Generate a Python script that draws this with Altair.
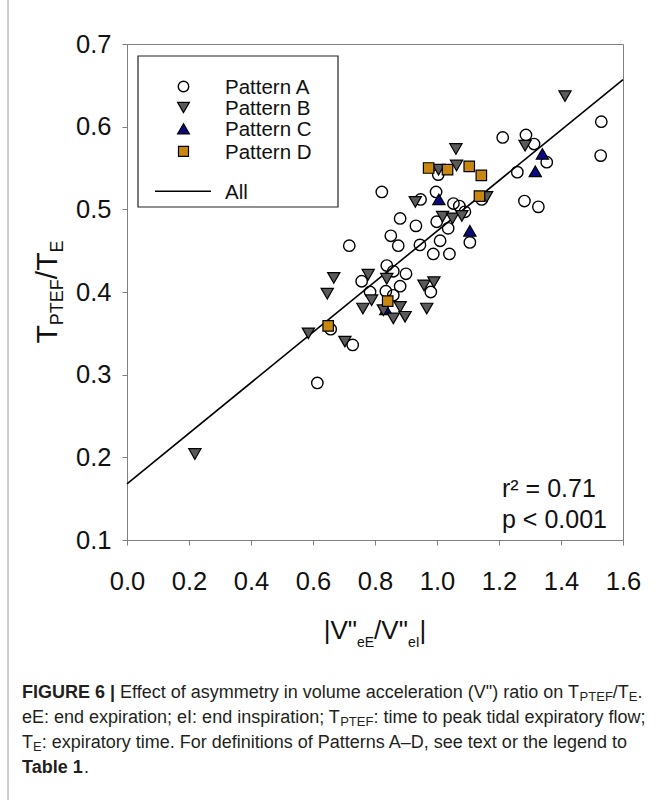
import altair as alt
import pandas as pd

# ---------------- data ----------------
a_x = [0.614, 0.657, 0.728, 0.717, 0.757, 0.784, 0.822, 0.835, 0.838, 0.859, 0.859,
       0.851, 0.875, 0.881, 0.881, 0.900, 0.932, 0.945, 0.947, 0.980, 0.988, 0.997,
       1.004, 0.999, 1.010, 1.036, 1.040, 1.053, 1.072, 1.090, 1.106, 1.144, 1.212,
       1.259, 1.282, 1.287, 1.313, 1.327, 1.354, 1.530, 1.528]
a_y = [0.290, 0.355, 0.336, 0.456, 0.413, 0.400, 0.521, 0.401, 0.432, 0.425, 0.396,
       0.468, 0.456, 0.489, 0.407, 0.422, 0.480, 0.457, 0.512, 0.400, 0.446, 0.521,
       0.542, 0.485, 0.462, 0.477, 0.446, 0.507, 0.504, 0.497, 0.460, 0.512, 0.587,
       0.545, 0.510, 0.590, 0.579, 0.503, 0.557, 0.606, 0.565]

b_x = [0.219, 0.585, 0.646, 0.667, 0.703, 0.778, 0.789, 0.761, 0.838, 0.827, 0.881,
       0.859, 0.897, 0.958, 0.990, 0.967, 0.930, 1.005, 1.061, 1.063, 1.018, 1.050,
       1.080, 1.160, 1.284, 1.413]
b_y = [0.204, 0.350, 0.398, 0.417, 0.340, 0.421, 0.390, 0.380, 0.416, 0.378, 0.382,
       0.368, 0.370, 0.408, 0.412, 0.380, 0.509, 0.548, 0.573, 0.553, 0.491, 0.489,
       0.492, 0.515, 0.577, 0.637]

c_x = [0.835, 1.006, 1.106, 1.317, 1.340]
c_y = [0.379, 0.512, 0.474, 0.546, 0.567]

d_x = [0.649, 0.841, 0.973, 1.034, 1.104, 1.143, 1.137]
d_y = [0.359, 0.389, 0.550, 0.548, 0.552, 0.541, 0.516]

fit_x = [0.0, 1.6]
fit_y = [0.168, 0.657]

x_ticks = [0.0, 0.2, 0.4, 0.6, 0.8, 1.0, 1.2, 1.4, 1.6]
y_ticks = [0.1, 0.2, 0.3, 0.4, 0.5, 0.6, 0.7]

legend_labels = ["Pattern A", "Pattern B", "Pattern C", "Pattern D", "All"]
stats_lines = ["r\u00b2 = 0.71", "p < 0.001"]

caption_lines = [
    [("FIGURE 6 |", "b"), (" Effect of asymmetry in volume acceleration (V\") ratio on T", "n"),
     ("PTEF", "s"), ("/T", "n"), ("E", "s"), (".", "n")],
    [("eE: end expiration; eI: end inspiration; T", "n"), ("PTEF", "s"),
     (": time to peak tidal expiratory flow;", "n")],
    [("T", "n"), ("E", "s"),
     (": expiratory time. For definitions of Patterns A\u2013D, see text or the legend to", "n")],
    [("Table 1", "b"), (".", "n")],
]
x_title = [("|V\"", "n"), ("eE", "s"), ("/V\"", "n"), ("eI", "s"), ("|", "n")]
y_title = [("T", "n"), ("PTEF", "s"), ("/T", "n"), ("E", "s")]

# ---------------- styling ----------------
FONT = "Liberation Sans, Arial, Helvetica, sans-serif"
X0, Y0 = 127, 44          # plot origin in the page
W = H = 496
GRAY = "#808080"
COL_B, COL_C, COL_D = "#5a5a5a", "#0a0a80", "#c8880f"

AR = {' ': 278, '!': 278, '"': 355, '(': 333, ')': 333, ',': 278, '-': 333, '.': 278,
      '/': 278, ':': 278, ';': 278, '|': 260, '<': 584, '=': 584, '\u2013': 556,
      'a': 556, 'b': 556, 'c': 500, 'd': 556, 'e': 556, 'f': 278, 'g': 556, 'h': 556,
      'i': 222, 'j': 222, 'k': 500, 'l': 222, 'm': 833, 'n': 556, 'o': 556, 'p': 556,
      'q': 556, 'r': 333, 's': 500, 't': 278, 'u': 556, 'v': 500, 'w': 722, 'x': 500,
      'y': 500, 'z': 500, 'A': 667, 'B': 667, 'C': 722, 'D': 722, 'E': 667, 'F': 611,
      'G': 778, 'H': 722, 'I': 278, 'J': 500, 'K': 667, 'L': 556, 'M': 833, 'N': 722,
      'O': 778, 'P': 667, 'Q': 778, 'R': 722, 'S': 667, 'T': 611, 'U': 722, 'V': 667,
      'W': 944, 'X': 667, 'Y': 667, 'Z': 611}
ARB = dict(AR)
ARB.update({'|': 280, 'b': 611, 'l': 278, 'G': 778, 'U': 722, 'R': 722, ':': 333})


def tw(s, size, bold=False):
    t = ARB if bold else AR
    return sum(t.get(ch, 556) for ch in s) * size / 1000.0


def txt(s, x, y, **kw):
    opts = dict(align="left", baseline="alphabetic", font=FONT, color="#111111")
    opts.update(kw)
    return alt.Chart(pd.DataFrame({"t": [s]})).mark_text(**opts).encode(
        text="t:N", x=alt.value(x - X0), y=alt.value(y - Y0))


xs = alt.Scale(domain=[0, 1.6], nice=False, zero=False)
ys = alt.Scale(domain=[0.1, 0.7], nice=False, zero=False)

xaxis = alt.Axis(values=x_ticks, format=".1f", title=None, grid=False, domainColor=GRAY,
                 tickColor=GRAY, tickSize=5, labelFont=FONT, labelFontSize=25.5,
                 labelColor="#111111", labelPadding=24, labelFlush=False, labelOverlap=False)
yaxis = alt.Axis(values=y_ticks, format=".1f", title=None, grid=False, domainColor=GRAY,
                 tickColor=GRAY, tickSize=5, labelFont=FONT, labelFontSize=25.5,
                 labelColor="#111111", labelPadding=11, labelFlush=False, labelOverlap=False)

layers = []

# outer figure border (left edge)
layers.append(alt.Chart(pd.DataFrame({"a": [0]})).mark_rule(color="#9a9a9a", strokeWidth=1).encode(
    x=alt.value(8 - X0), y=alt.value(0 - Y0), y2=alt.value(800 - Y0)))

# regression line
layers.append(alt.Chart(pd.DataFrame({"x": fit_x, "y": fit_y})).mark_line(
    color="black", strokeWidth=1.6).encode(
    x=alt.X("x:Q", scale=xs, axis=xaxis), y=alt.Y("y:Q", scale=ys, axis=yaxis)))


def pts(xv, yv, shape, fill, size):
    df = pd.DataFrame({"x": xv, "y": yv})
    if fill is None:
        mk = alt.Chart(df).mark_point(shape=shape, filled=False, color="black",
                                      strokeWidth=1.4, size=size, opacity=1)
    else:
        mk = alt.Chart(df).mark_point(shape=shape, filled=True, fill=fill, stroke="black",
                                      strokeWidth=1.2, size=size, opacity=1, fillOpacity=1)
    return mk.encode(x=alt.X("x:Q", scale=xs, axis=xaxis), y=alt.Y("y:Q", scale=ys, axis=yaxis))


layers.append(pts(a_x, a_y, "circle", None, 130))
layers.append(pts(c_x, c_y, "triangle-up", COL_C, 150))
layers.append(pts(b_x, b_y, "triangle-down", COL_B, 150))
layers.append(pts(d_x, d_y, "square", COL_D, 110))

# ---------------- legend ----------------
layers.append(alt.Chart(pd.DataFrame({"a": [0]})).mark_rect(
    filled=False, stroke="#222222", strokeWidth=1.2).encode(
    x=alt.value(138 - X0), x2=alt.value(338 - X0), y=alt.value(56 - Y0), y2=alt.value(207 - Y0)))

leg_rows = [86.5, 107.5, 128.8, 151.3, 191.3]
leg_sym = [("circle", None, 110), ("triangle-down", COL_B, 140),
           ("triangle-up", COL_C, 140), ("square", COL_D, 100)]
for (shape, fill, size), yy in zip(leg_sym, leg_rows[:4]):
    df = pd.DataFrame({"a": [0]})
    if fill is None:
        mk = alt.Chart(df).mark_point(shape=shape, filled=False, color="black",
                                      strokeWidth=1.4, size=size, opacity=1)
    else:
        mk = alt.Chart(df).mark_point(shape=shape, filled=True, fill=fill, stroke="black",
                                      strokeWidth=1.2, size=size, opacity=1)
    layers.append(mk.encode(x=alt.value(183.5 - X0), y=alt.value(yy - Y0)))
layers.append(alt.Chart(pd.DataFrame({"a": [0]})).mark_rule(color="black", strokeWidth=1.6).encode(
    x=alt.value(155 - X0), x2=alt.value(211 - X0), y=alt.value(leg_rows[4] - Y0)))
for lab, yy in zip(legend_labels, leg_rows):
    layers.append(txt(lab, 225, yy + 1.5, baseline="middle", fontSize=20.5))

# ---------------- r2 / p ----------------
layers.append(txt(stats_lines[0], 502, 497, fontSize=25))
layers.append(txt(stats_lines[1], 502, 528, fontSize=25))

# ---------------- axis titles ----------------
XT_MAIN, XT_SUB = 26, 14
tot = sum(tw(s, XT_MAIN if st == "n" else XT_SUB) for s, st in x_title)
cx = X0 + W / 2 - tot / 2
for s, st in x_title:
    size = XT_MAIN if st == "n" else XT_SUB
    layers.append(txt(s, cx, 639 + (8 if st == "s" else 0), fontSize=size))
    cx += tw(s, size)

YT_MAIN, YT_SUB = 30, 18
tot = sum(tw(s, YT_MAIN if st == "n" else YT_SUB) for s, st in y_title)
cy = Y0 + 248 + tot / 2
for s, st in y_title:
    size = YT_MAIN if st == "n" else YT_SUB
    layers.append(txt(s, 57 + (6 if st == "s" else 0), cy, fontSize=size, angle=270))
    cy -= tw(s, size)

# ---------------- caption ----------------
CAP = 18
CAP_SUB = 13
base_y = [698, 723, 748, 773]
for line, by in zip(caption_lines, base_y):
    cx = 22
    for s, st in line:
        lead = len(s) - len(s.lstrip(" "))
        if lead:
            cx += tw(" " * lead, CAP)
            s = s.lstrip(" ")
        if st == "s":
            layers.append(txt(s, cx, by + 3, fontSize=CAP_SUB, color="#231f20"))
            cx += tw(s, CAP_SUB)
        else:
            bold = st == "b"
            layers.append(txt(s, cx, by, fontSize=CAP, color="#231f20",
                              fontWeight="bold" if bold else "normal"))
            cx += tw(s, CAP, bold)

chart = alt.layer(*layers).properties(
    width=W, height=H,
    padding={"left": X0, "top": Y0, "right": 657 - X0 - W, "bottom": 800 - Y0 - H},
    autosize=alt.AutoSizeParams(type="none"),
    background="white",
).configure_view(stroke=GRAY, strokeWidth=1)

chart.save("out.html", embed_options={"renderer": "svg", "actions": False})
